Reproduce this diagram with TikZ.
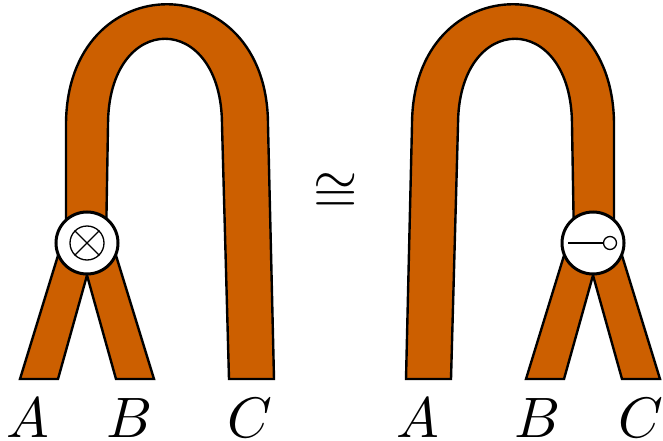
\documentclass[tikz,border=0pt]{standalone}
\definecolor{tube}{RGB}{204,95,0}
\begin{document}
\begin{tikzpicture}[x=1pt,y=-1pt,
  tubestyle/.style={fill=tube, draw=black, line width=2.4pt},
  junction/.style={circle, draw=black, fill=white, line width=3pt, minimum size=62pt, inner sep=0pt},
  thinline/.style={line width=1.3pt},
  lbl/.style={anchor=base, inner sep=0pt, scale=5.7}]
\useasboundingbox (0,0) rectangle (663,441);
% left figure
\path[tubestyle] (66,243) -- (66,125) .. controls (66,-36) and (268,-36) .. (268,125) -- (274,379) -- (229,379) -- (222,125) .. controls (222,10) and (108,10) .. (108,125) -- (106,243) -- cycle;
\path[tubestyle] (20,379) -- (64,236) -- (98,236) -- (58,379) -- cycle;
\path[tubestyle] (154,379) -- (110,236) -- (76,236) -- (116,379) -- cycle;
\node[junction] (mL) at (87,243) {};
\node[circle, draw, thinline, minimum size=34pt, inner sep=0pt] (ot) at (mL) {};
\draw[thinline] (ot.north west) -- (ot.south east);
\draw[thinline] (ot.north east) -- (ot.south west);
% right figure
\path[tubestyle] (614,243) -- (614,125) .. controls (614,-36) and (412,-36) .. (412,125) -- (406,379) -- (451,379) -- (458,125) .. controls (458,10) and (572,10) .. (572,125) -- (574,243) -- cycle;
\path[tubestyle] (660,379) -- (616,236) -- (582,236) -- (622,379) -- cycle;
\path[tubestyle] (526,379) -- (570,236) -- (604,236) -- (564,379) -- cycle;
\node[junction] (mR) at (593,243) {};
\node[circle, draw, thinline, fill=white, minimum size=13pt, inner sep=0pt] (lp) at (610,243) {};
\coordinate (ls) at (568,243);
\draw[thinline] (ls) -- (lp.west);
% iso
\node[scale=5.7, inner sep=0pt] (iso) at (336,193) {$\cong$};
% labels
\node[lbl] (la1) at (28,437) {$A$};
\node[lbl] (lb1) at (130,437) {$B$};
\node[lbl] (lc1) at (250,437) {$C$};
\node[lbl] (la2) at (418,437) {$A$};
\node[lbl] (lb2) at (538,437) {$B$};
\node[lbl] (lc2) at (641,437) {$C$};
\end{tikzpicture}
\end{document}
